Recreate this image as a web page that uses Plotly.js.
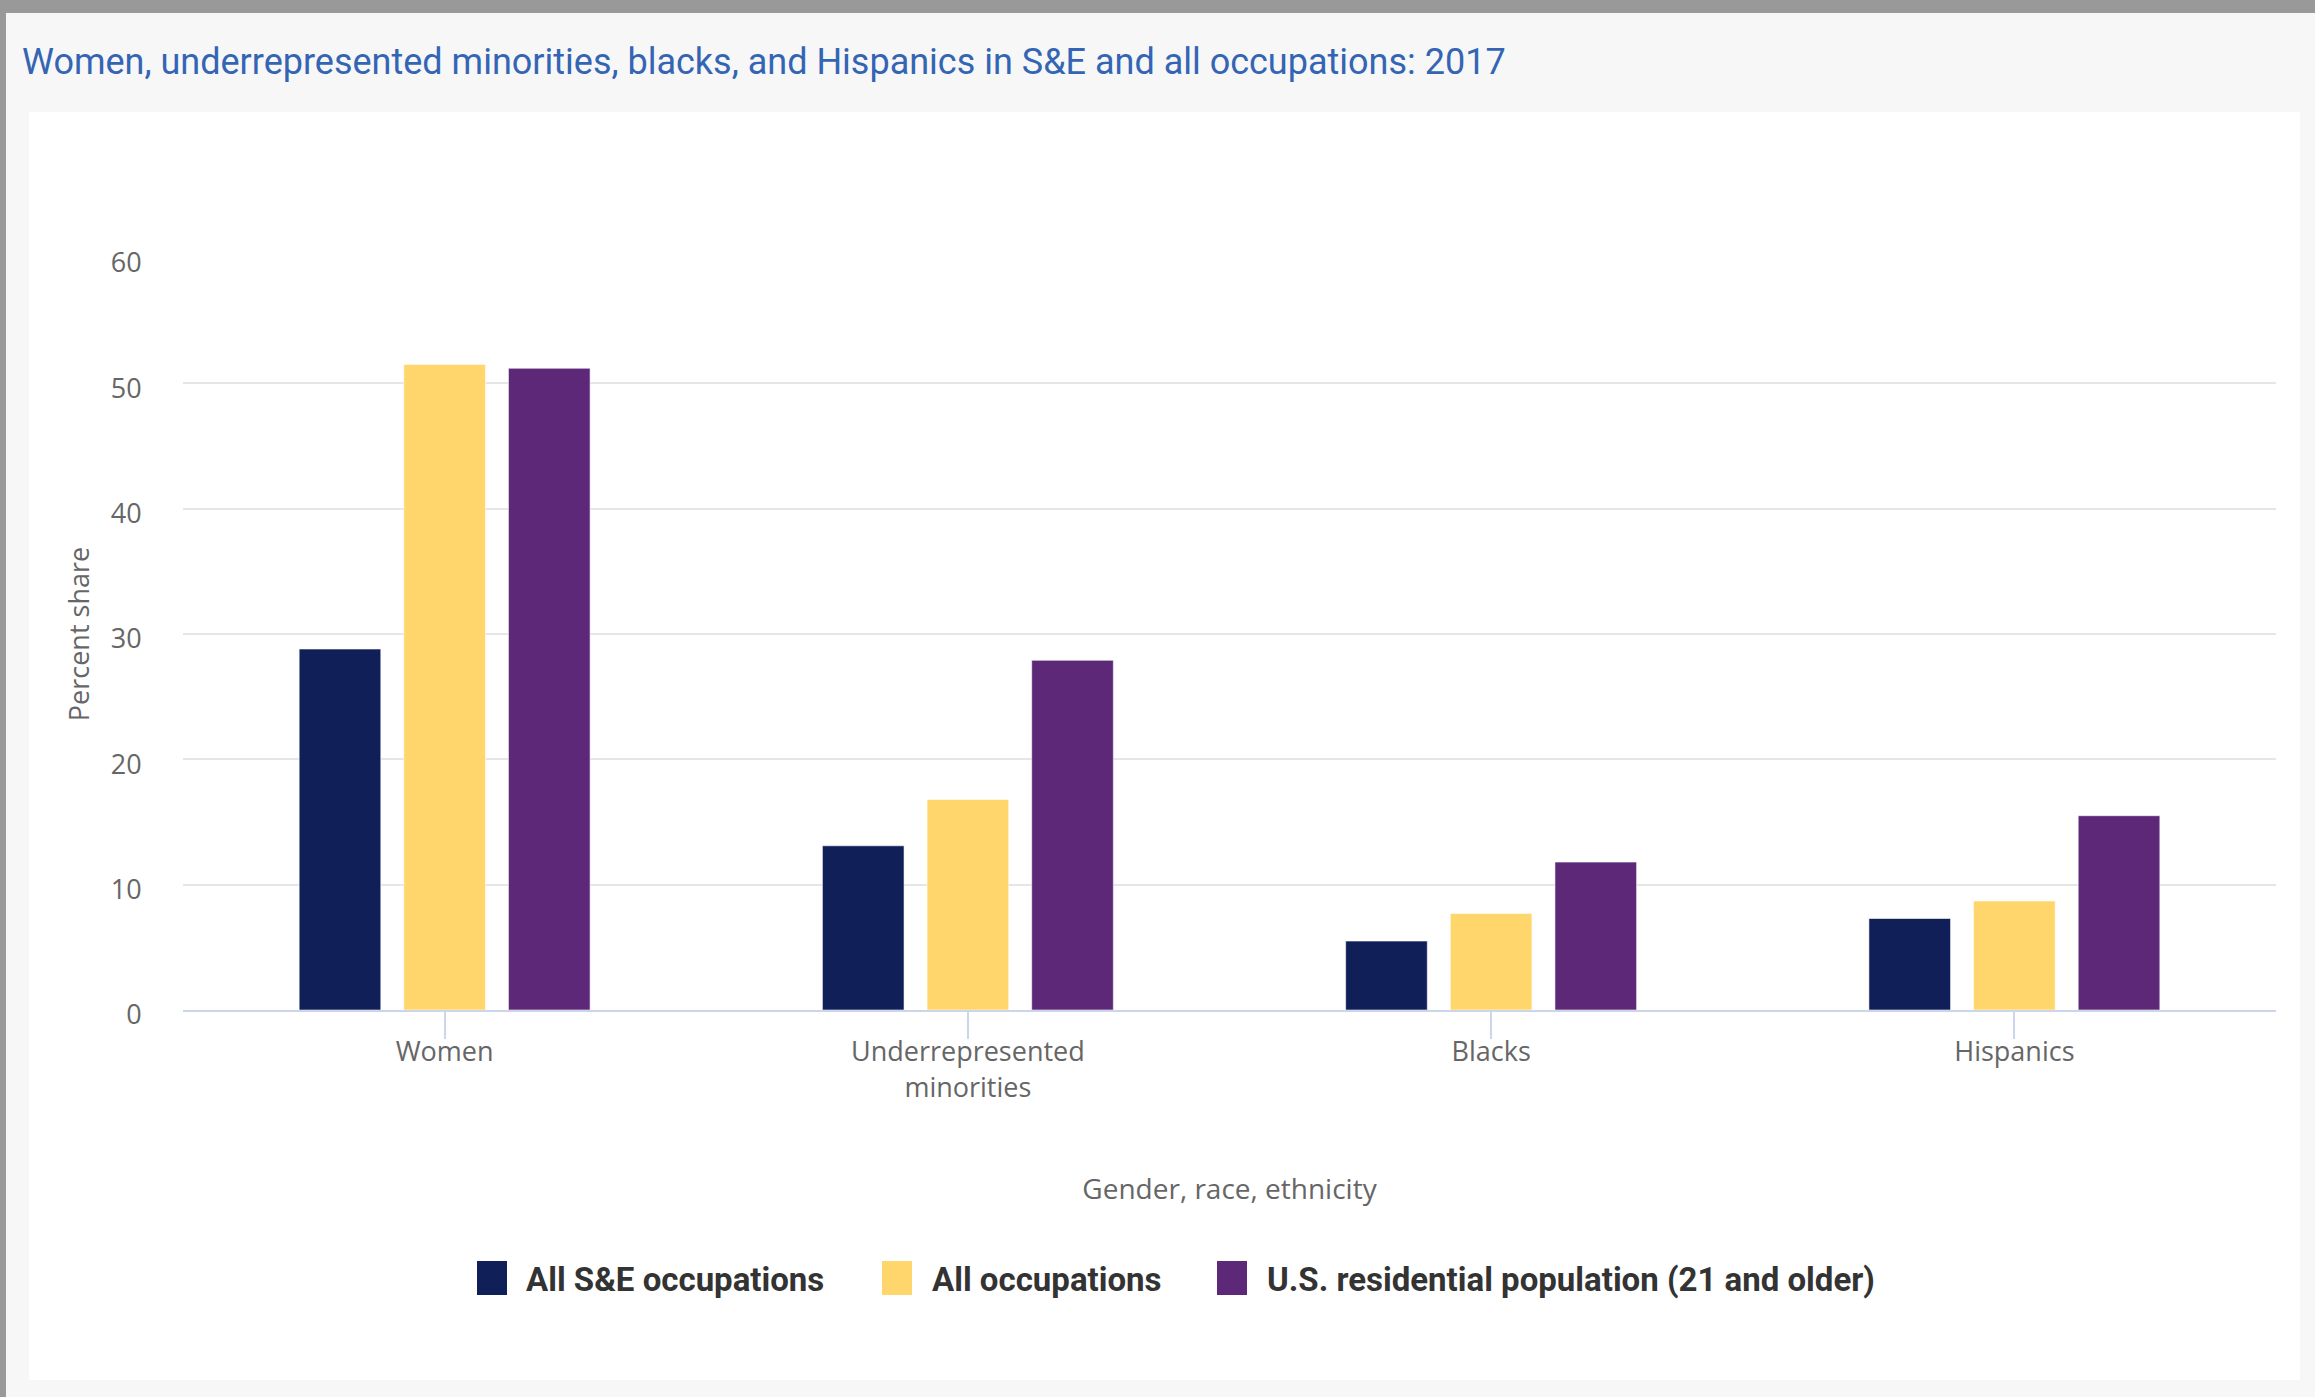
<!DOCTYPE html>
<html><head><meta charset="utf-8">
<script src="https://cdn.plot.ly/plotly-3.0.1.min.js"></script>
<style>html,body{margin:0;padding:0;background:#f7f7f7;overflow:hidden}#chart{width:2315px;height:1397px}</style>
</head><body><div id="chart"></div>
<script>
// ---- data ----
const categories = ["Women", "Underrepresented<br>minorities", "Blacks", "Hispanics"];
const seriesNames = ["All S&E occupations", "All occupations", "U.S. residential population (21 and older)"];
const seOccupations = [28.8, 13.1, 5.5, 7.3];
const allOccupations = [51.5, 16.8, 7.7, 8.7];
const usPopulation = [51.2, 27.9, 11.8, 15.5];
const yTickValues = [0, 10, 20, 30, 40, 50, 60];
const titleText = "Women, underrepresented minorities, blacks, and Hispanics in S&E and all occupations: 2017";
const xTitle = "Gender, race, ethnicity";
const yTitle = "Percent share";

// ---- layout helpers ----
const W = 2315, H = 1397;
const M = {l: 183, r: 39, t: 258, b: 387};
const PW = W - M.l - M.r, PH = H - M.t - M.b;
const px = x => (x - M.l) / PW;
const py = y => (H - M.b - y) / PH;
const colors = ["#111f58", "#fed66b", "#5e2878"];
const seriesValues = [seOccupations, allOccupations, usPopulation];

const traces = seriesValues.map((vals, i) => ({
  type: "bar",
  name: seriesNames[i],
  x: categories,
  y: vals,
  marker: {color: colors[i], line: {color: "rgba(255,255,255,0.55)", width: 1}},
  showlegend: false,
  hoverinfo: "x+y+name"
}));

const shapes = [
  {type: "rect", xref: "paper", yref: "paper", x0: px(-10), x1: px(W + 10), y0: py(H + 10), y1: py(-10), fillcolor: "#f7f7f7", line: {width: 0}, layer: "below"},
  {type: "rect", xref: "paper", yref: "paper", x0: px(29), x1: px(2300), y0: py(1380), y1: py(112), fillcolor: "#ffffff", line: {width: 0}, layer: "below"},
  {type: "rect", xref: "paper", yref: "paper", x0: px(-10), x1: px(W + 10), y0: py(13), y1: py(-10), fillcolor: "#999999", line: {width: 0}, layer: "below"},
  {type: "rect", xref: "paper", yref: "paper", x0: px(-10), x1: px(6), y0: py(H + 10), y1: py(-10), fillcolor: "#999999", line: {width: 0}, layer: "below"}
];

// manual legend (large swatches)
const legendSwatchX = [477, 882, 1217];
const legendTextX = [524, 930, 1265];
const annotations = [];
seriesNames.forEach((n, i) => {
  shapes.push({type: "rect", xref: "paper", yref: "paper",
    x0: px(legendSwatchX[i]), x1: px(legendSwatchX[i] + 30),
    y0: py(1295), y1: py(1261), fillcolor: colors[i], line: {width: 0}});
  annotations.push({xref: "paper", yref: "paper", x: px(legendTextX[i]), y: py(1279),
    xanchor: "left", yanchor: "middle", showarrow: false, text: n,
    font: {family: "Roboto, sans-serif", size: 33, color: "#333333", weight: "bold"}});
});

const layout = {
  width: W, height: H,
  margin: M,
  paper_bgcolor: "#f7f7f7",
  plot_bgcolor: "#ffffff",
  title: {
    text: titleText, xref: "container", yref: "container", x: 22 / W, xanchor: "left",
    y: 1 - 61 / H, yanchor: "middle",
    font: {family: "Roboto, sans-serif", size: 36, color: "#3465b4"}
  },
  barmode: "group",
  bargap: 0.4,
  bargroupgap: 0.22,
  showlegend: false,
  xaxis: {
    type: "category",
    showgrid: false,
    showline: true, linecolor: "#ccd6eb", linewidth: 2,
    ticks: "outside", ticklen: 27, tickcolor: "#ccd6eb", tickwidth: 2,
    ticklabelstandoff: -10,
    tickfont: {family: "Open Sans, sans-serif", size: 27, color: "#666666"},
    title: {text: xTitle, standoff: 76, font: {family: "Open Sans, sans-serif", size: 28, color: "#666666"}},
    zeroline: false
  },
  yaxis: {
    range: [0, 60],
    tickvals: yTickValues,
    showgrid: true, gridcolor: "#e6e6e6", gridwidth: 2,
    zeroline: false, showline: false,
    ticks: "outside", ticklen: 35, tickcolor: "rgba(0,0,0,0)",
    ticklabelshift: 5,
    tickfont: {family: "Open Sans, sans-serif", size: 27, color: "#666666"},
    title: {text: yTitle, standoff: 13, font: {family: "Open Sans, sans-serif", size: 27, color: "#666666"}}
  },
  shapes: shapes,
  annotations: annotations
};

Plotly.newPlot("chart", traces, layout, {displayModeBar: false, responsive: false});
</script>
</body></html>
